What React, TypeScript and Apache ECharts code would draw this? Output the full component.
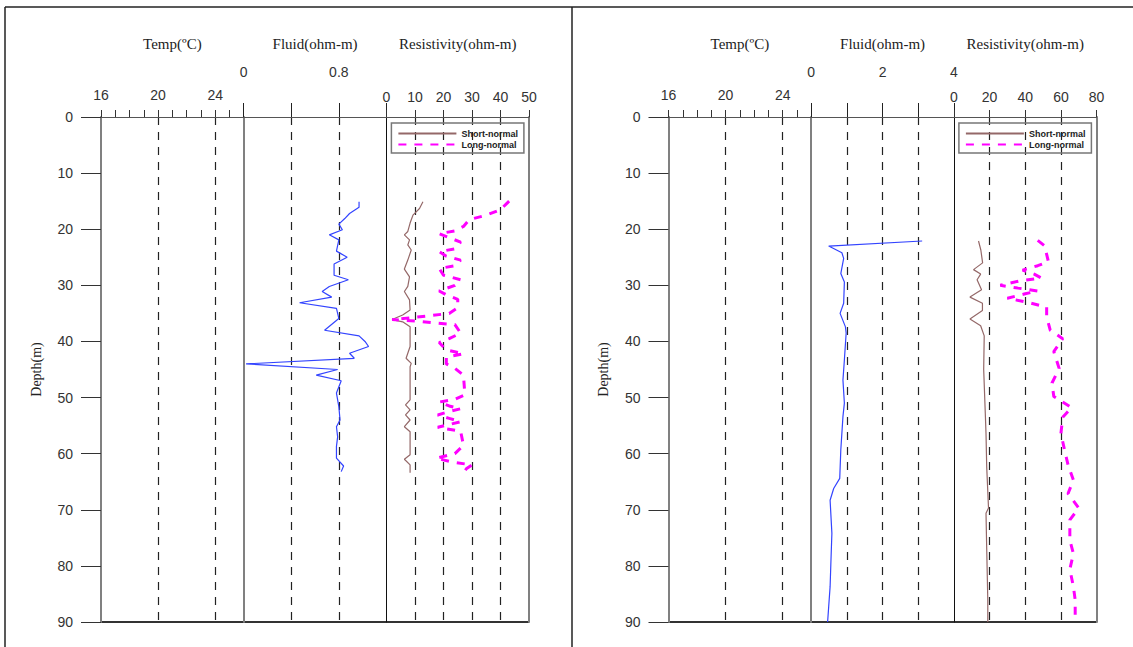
import React, { useEffect, useRef } from "react";
import * as echarts from "echarts";

// ---------- axis definitions ----------
const depthMin = 0;
const depthMax = 90;
const depthStep = 10;

const tempMin = 16;
const tempMax = 26;
const tempTickLabels = [16, 20, 24];

const fluidLeftMax = 1.2;
const fluidLeftStep = 0.4;
const fluidLeftTickLabels = [0, 0.8];
const fluidRightMax = 4;
const fluidRightStep = 1;
const fluidRightTickLabels = [0, 2, 4];

const resLeftMax = 50;
const resLeftStep = 10;
const resRightMax = 80;
const resRightStep = 20;

const titles = ["Temp(ºC)", "Fluid(ohm-m)", "Resistivity(ohm-m)"];
const legendNames = ["Short-normal", "Long-normal"];

// ---------- data: left well ----------
const fluidLeftDepth = [15.1, 16.1, 17.2, 18.1, 19.1, 20.1, 21.0, 21.9, 23.9, 25.0, 26.2, 28.2, 29.0, 30.2, 31.1, 32.1, 33.1, 34.1, 35.9, 38.0, 39.0, 40.0, 40.9, 42.1, 43.0, 44.0, 45.0, 46.0, 47.0, 49.2, 51.6, 54.0, 55.2, 57.0, 58.7, 60.8, 62.2, 63.2];
const fluidLeftValue = [0.97, 0.97, 0.89, 0.85, 0.8, 0.83, 0.72, 0.8, 0.78, 0.87, 0.76, 0.76, 0.88, 0.72, 0.66, 0.74, 0.47, 0.78, 0.8, 0.68, 0.97, 1.02, 1.05, 0.89, 0.93, 0.02, 0.79, 0.61, 0.82, 0.78, 0.8, 0.81, 0.78, 0.79, 0.78, 0.78, 0.84, 0.82];

const shortLeftDepth = [15.1, 16.3, 17.5, 18.9, 20.4, 21.0, 21.9, 22.8, 23.7, 25.5, 27.1, 28.5, 30.2, 31.1, 32.6, 34.4, 35.3, 36.1, 36.5, 37.4, 40.9, 43.0, 43.9, 44.5, 50.4, 51.3, 52.2, 53.1, 54.0, 55.2, 56.1, 60.2, 61.0, 62.0, 63.4];
const shortLeftValue = [12.8, 11.6, 9.3, 8.3, 7.5, 6.3, 8.1, 7.5, 8.7, 7.5, 6.3, 8.1, 7.5, 6.3, 8.1, 8.3, 5.7, 2.0, 5.7, 8.3, 8.3, 6.9, 8.7, 8.3, 8.3, 6.7, 8.3, 6.7, 8.3, 6.3, 8.3, 8.3, 6.3, 8.3, 8.3];

const longLeftDepth = [15.0, 16.5, 17.5, 18.3, 19.5, 20.3, 20.8, 21.5, 22.3, 23.5, 24.0, 24.8, 25.5, 26.5, 27.0, 28.2, 29.0, 30.0, 31.0, 31.7, 32.5, 34.0, 35.0, 35.5, 35.8, 36.1, 36.4, 36.7, 37.0, 38.5, 39.5, 40.2, 41.5, 42.2, 42.8, 44.0, 44.8, 46.0, 49.5, 50.3, 50.8, 51.5, 52.0, 52.5, 53.1, 53.7, 54.3, 54.8, 55.3, 56.0, 58.5, 60.0, 60.8, 61.5, 62.0, 62.7, 63.5];
const longLeftValue = [43, 40, 35, 29, 27, 24, 18.5, 22, 26, 24, 18.5, 21, 26, 24, 18.5, 20, 26, 24, 18.5, 21, 25, 25, 22, 14, 8, 2, 11, 17, 24, 26, 22, 18.5, 21, 27, 21, 21, 24, 27, 27.5, 24, 18.5, 22, 26, 22, 18, 22, 26, 22, 18, 26, 27, 24, 17.5, 23, 30, 28, 27];

// ---------- data: right well ----------
const fluidRightDepth = [22.1, 23.0, 24.2, 25.2, 27.9, 29.4, 33.2, 35.0, 37.4, 38.5, 43.3, 46.9, 51.0, 53.4, 59.3, 64.4, 66.2, 68.3, 74.2, 79.8, 83.7, 87.3, 90.0];
const fluidRightValue = [3.11, 0.49, 0.86, 0.91, 0.83, 0.93, 0.91, 0.81, 0.96, 0.98, 0.93, 0.89, 0.93, 0.89, 0.83, 0.8, 0.63, 0.53, 0.58, 0.55, 0.53, 0.49, 0.46];

const shortRightDepth = [22.1, 23.7, 26.0, 27.2, 28.0, 29.0, 30.8, 32.1, 33.2, 34.5, 36.0, 37.2, 39.0, 45.0, 52.8, 56.4, 62.4, 69.7, 70.6, 77.0, 86.1, 90.0];
const shortRightValue = [13.8, 15.1, 16.1, 11, 15, 13, 15.5, 9, 16, 16, 9, 15, 17, 16.7, 17.6, 18.0, 18.4, 19.4, 18.0, 18.4, 19.0, 19.0];

const longRightDepth = [22.0, 23.0, 24.5, 25.8, 26.5, 27.3, 28.0, 28.7, 29.2, 30.0, 30.5, 31.0, 31.5, 32.3, 33.0, 33.9, 35.6, 38.0, 39.5, 41.8, 44.8, 47.4, 49.8, 51.8, 53.5, 56.4, 59.3, 62.0, 64.7, 67.1, 69.7, 71.8, 75.4, 77.8, 80.6, 83.7, 86.1, 89.6];
const longRightValue = [47, 51, 52, 53, 47, 38.5, 45, 49, 37, 26, 36, 47, 40, 30, 41, 52, 52, 54, 61, 56, 59, 55, 56, 66, 61, 60, 62, 64, 67, 64, 70, 65, 65, 67, 65, 67, 68, 68];

const zip = (depth: number[], value: number[]) => depth.map((d, i) => [value[i], d]);
const inList = (list: number[]) => (v: number) =>
  list.some((l) => Math.abs(l - v) < 1e-6) ? String(v) : "";

const SANS = "Liberation Sans";
const SERIF = "Liberation Serif";

function buildOption() {
  const gridTop = 117;
  const gridHeight = 505;
  const trackW = 142.7;
  const panels = [
    {
      x0: 101,
      fluidMax: fluidLeftMax, fluidStep: fluidLeftStep, fluidLabels: fluidLeftTickLabels,
      resMax: resLeftMax, resStep: resLeftStep,
      fluid: zip(fluidLeftDepth, fluidLeftValue),
      short: zip(shortLeftDepth, shortLeftValue),
      long: zip(longLeftDepth, longLeftValue),
    },
    {
      x0: 668.5,
      fluidMax: fluidRightMax, fluidStep: fluidRightStep, fluidLabels: fluidRightTickLabels,
      resMax: resRightMax, resStep: resRightStep,
      fluid: zip(fluidRightDepth, fluidRightValue),
      short: zip(shortRightDepth, shortRightValue),
      long: zip(longRightDepth, longRightValue),
    },
  ];

  const grid: any[] = [];
  const xAxis: any[] = [];
  const yAxis: any[] = [];
  const series: any[] = [];
  const legend: any[] = [];
  const graphic: any[] = [];

  const dashed = { color: "#222", width: 1.2, type: [8, 7] };
  const labelStyle = { fontFamily: SANS, fontSize: 14, color: "#333" };
  const yBase = {
    type: "value", inverse: true, min: depthMin, max: depthMax, interval: depthStep,
    splitLine: { show: false },
  };

  panels.forEach((p, pi) => {
    const g0 = pi * 3;
    const xi = pi * 4;
    const yi = pi * 4;
    for (let k = 0; k < 3; k++) {
      grid.push({ left: p.x0 + k * trackW, top: gridTop, width: trackW, height: gridHeight, containLabel: false });
    }
    // temp axis (ticks + labels)
    xAxis.push({
      gridIndex: g0, type: "value", position: "top", min: tempMin, max: tempMax, interval: 1,
      axisLine: { show: true, lineStyle: { color: "#555", width: 1 } },
      axisTick: { show: true, length: 7, lineStyle: { color: "#333" } },
      axisLabel: { show: true, margin: 15, formatter: inList(tempTickLabels), ...labelStyle },
      splitLine: { show: false },
    });
    // temp dashed grid lines
    xAxis.push({
      gridIndex: g0, type: "value", position: "top", min: tempMin, max: tempMax, interval: 4,
      axisLine: { show: false }, axisTick: { show: false }, axisLabel: { show: false },
      splitLine: { show: true, showMinLine: false, showMaxLine: false, lineStyle: dashed },
    });
    // fluid
    xAxis.push({
      gridIndex: g0 + 1, type: "value", position: "top", min: 0, max: p.fluidMax, interval: p.fluidStep,
      axisLine: { show: true, lineStyle: { color: "#555", width: 1 } },
      axisTick: { show: true, length: 14, lineStyle: { color: "#222" } },
      axisLabel: { show: true, margin: 38, formatter: inList(p.fluidLabels), showMinLabel: true, showMaxLabel: true, ...labelStyle },
      splitLine: { show: true, showMinLine: false, showMaxLine: false, lineStyle: dashed },
    });
    // resistivity
    xAxis.push({
      gridIndex: g0 + 2, type: "value", position: "top", min: 0, max: p.resMax, interval: p.resStep,
      axisLine: { show: true, lineStyle: { color: "#555", width: 1 } },
      axisTick: { show: true, length: 7, lineStyle: { color: "#333" } },
      axisLabel: { show: true, margin: 13, showMinLabel: true, showMaxLabel: true, ...labelStyle },
      splitLine: { show: true, showMinLine: false, showMaxLine: false, lineStyle: dashed },
    });

    // depth axis
    yAxis.push({
      ...yBase, gridIndex: g0, position: "left",
      axisLine: { show: true, lineStyle: { color: "#808080", width: 2 } },
      axisTick: { show: true, length: 20, lineStyle: { color: "#333" } },
      axisLabel: { show: true, margin: 28, ...labelStyle },
      name: "Depth(m)", nameLocation: "middle", nameGap: 58, nameRotate: 90,
      nameTextStyle: { fontFamily: SERIF, fontSize: 14, color: "#222" },
    });
    yAxis.push({
      ...yBase, gridIndex: g0 + 1, position: "left",
      axisLine: { show: true, lineStyle: { color: "#808080", width: 2 } },
      axisTick: { show: false }, axisLabel: { show: false },
    });
    yAxis.push({
      ...yBase, gridIndex: g0 + 2, position: "left",
      axisLine: { show: true, lineStyle: { color: "#111", width: 1 } },
      axisTick: { show: false }, axisLabel: { show: false },
    });
    yAxis.push({
      ...yBase, gridIndex: g0 + 2, position: "right",
      axisLine: { show: true, lineStyle: { color: "#808080", width: 2 } },
      axisTick: { show: false }, axisLabel: { show: false },
    });

    series.push({
      name: "Fluid", type: "line", xAxisIndex: xi + 2, yAxisIndex: yi + 1, data: p.fluid,
      symbol: "none", lineStyle: { color: "#3344ff", width: 1.2 }, itemStyle: { color: "#3344ff" }, z: 3,
    });
    series.push({
      name: legendNames[0], type: "line", xAxisIndex: xi + 3, yAxisIndex: yi + 2, data: p.short,
      symbol: "none", lineStyle: { color: "#946868", width: 1.2 }, itemStyle: { color: "#946868" }, z: 3,
    });
    series.push({
      name: legendNames[1], type: "line", xAxisIndex: xi + 3, yAxisIndex: yi + 2, data: p.long,
      symbol: "none", lineStyle: { color: "#ff00ff", width: 3, type: [8, 8] }, itemStyle: { color: "#ff00ff" }, z: 4,
    });

    legend.push({
      left: p.x0 + 2 * trackW + 5, top: 123, orient: "vertical",
      itemWidth: 58, itemHeight: 8, itemGap: 2, padding: [6, 6, 4, 6],
      borderColor: "#777", borderWidth: 1.5,
      itemStyle: { opacity: 0 },
      textStyle: { fontFamily: SANS, fontSize: 9, fontWeight: "bold", color: "#222" },
      data: legendNames,
    });

    titles.forEach((t, k) => {
      graphic.push({
        type: "text", x: p.x0 + (k + 0.5) * trackW, y: 44,
        style: { text: t, fontFamily: SERIF, fontSize: 15, fill: "#222", textAlign: "center", textVerticalAlign: "middle" },
      });
    });
    // bottom line
    graphic.push({
      type: "line", shape: { x1: p.x0, y1: gridTop + gridHeight, x2: p.x0 + 3 * trackW, y2: gridTop + gridHeight },
      style: { stroke: "#333", lineWidth: 2 },
    });
  });

  // outer frame
  graphic.push({ type: "line", shape: { x1: 5, y1: 7, x2: 1133, y2: 7 }, style: { stroke: "#222", lineWidth: 1.5 } });
  graphic.push({ type: "line", shape: { x1: 5, y1: 7, x2: 5, y2: 647 }, style: { stroke: "#222", lineWidth: 1.5 } });
  graphic.push({ type: "line", shape: { x1: 572, y1: 7, x2: 572, y2: 647 }, style: { stroke: "#222", lineWidth: 1.5 } });

  return {
    animation: false,
    backgroundColor: "#fff",
    grid, xAxis, yAxis, series, legend, graphic,
  };
}

export default function App() {
  const ref = useRef<HTMLDivElement>(null);
  useEffect(() => {
    if (!ref.current) return;
    const chart = echarts.init(ref.current, undefined, { renderer: "svg" });
    chart.setOption(buildOption() as any);
    return () => chart.dispose();
  }, []);
  return (
    <div
      ref={ref}
      style={{ position: "fixed", left: 0, top: 0, width: 1133, height: 647, background: "#fff" }}
    />
  );
}
